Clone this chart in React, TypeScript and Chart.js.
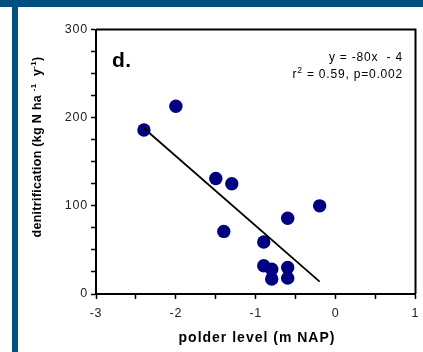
import React, { useEffect, useRef } from 'react';
import { Chart, registerables } from 'chart.js';

Chart.register(...registerables);

// ---- data ----
const polderLevel = [-2.4, -2.0, -1.5, -1.3, -1.4, -0.6, -0.2, -0.9, -0.9, -0.8, -0.8, -0.6, -0.6];
const denitrification = [186, 213, 131, 125, 71, 86, 100, 59, 32, 28, 17, 30, 18];
const trendX = [-2.4, -0.2];
const trendY = [188, 14];
const xTickValues = [-3, -2, -1, 0, 1];
const xTickLabels = ['-3', '-2', '-1', '0', '1'];
const yTickValues = [0, 100, 200, 300];
const yTickLabels = ['0', '100', '200', '300'];
const panelLabel = 'd.';
const equationText = 'y = -80x  - 4';
const statsLead = 'r';
const statsSup = '2';
const statsRest = ' = 0.59, p=0.002';
const xTitle = 'polder level (m NAP)';
const yTitleParts = [
  { t: 'denitrification (kg N ha ', sup: false },
  { t: '-1', sup: true },
  { t: '  y', sup: false },
  { t: '-1', sup: true },
  { t: ')', sup: false },
];

const FONT = "'Liberation Sans', Arial, sans-serif";
const BLUE = '#01507f';

const decor = {
  id: 'decor',
  beforeDraw(chart: any) {
    chart.ctx.letterSpacing = '0.8px';
  },
  afterDraw(chart: any) {
    const { ctx, chartArea: a } = chart;
    ctx.save();
    // frame top / right
    ctx.strokeStyle = '#000';
    ctx.lineWidth = 2;
    ctx.beginPath();
    ctx.moveTo(a.left, a.top);
    ctx.lineTo(a.right, a.top);
    ctx.lineTo(a.right, a.bottom);
    ctx.stroke();

    ctx.fillStyle = '#000';
    ctx.textBaseline = 'alphabetic';

    // panel label
    ctx.letterSpacing = '0.5px';
    ctx.textAlign = 'left';
    ctx.font = `bold 21px ${FONT}`;
    ctx.fillText(panelLabel, 112, 67);

    // equation
    ctx.letterSpacing = '0.8px';
    ctx.font = `12px ${FONT}`;
    ctx.textAlign = 'right';
    ctx.fillText(equationText, 403, 61);

    // r^2 line
    ctx.textAlign = 'left';
    ctx.font = `12px ${FONT}`;
    const wLead = ctx.measureText(statsLead).width;
    const wRest = ctx.measureText(statsRest).width;
    ctx.font = `8.5px ${FONT}`;
    const wSup = ctx.measureText(statsSup).width;
    let x0 = 403 - (wLead + wSup + wRest);
    ctx.font = `12px ${FONT}`;
    ctx.fillText(statsLead, x0, 78);
    x0 += wLead;
    ctx.font = `8.5px ${FONT}`;
    ctx.fillText(statsSup, x0, 73);
    x0 += wSup;
    ctx.font = `12px ${FONT}`;
    ctx.fillText(statsRest, x0, 78);

    // x title
    ctx.font = `bold 14px ${FONT}`;
    ctx.textAlign = 'center';
    ctx.letterSpacing = '1px';
    ctx.fillText(xTitle, 257, 342);

    // y title (rotated)
    ctx.letterSpacing = '0.3px';
    ctx.translate(40.5, 147);
    ctx.rotate(-Math.PI / 2);
    ctx.textAlign = 'left';
    const widths = yTitleParts.map((p) => {
      ctx.font = p.sup ? `bold 8px ${FONT}` : `bold 12.5px ${FONT}`;
      return ctx.measureText(p.t).width;
    });
    const total = widths.reduce((s, w) => s + w, 0);
    let px = -total / 2;
    yTitleParts.forEach((p, i) => {
      ctx.font = p.sup ? `bold 8px ${FONT}` : `bold 12.5px ${FONT}`;
      ctx.fillText(p.t, px, p.sup ? -5 : 0);
      px += widths[i];
    });
    ctx.restore();
    ctx.letterSpacing = '0px';
  },
};

export default function App() {
  const ref = useRef<HTMLCanvasElement>(null);

  useEffect(() => {
    if (!ref.current) return;
    const chart = new Chart(ref.current, {
      type: 'scatter',
      data: {
        datasets: [
          {
            type: 'line',
            data: trendX.map((x, i) => ({ x, y: trendY[i] })),
            borderColor: '#000',
            borderWidth: 1.8,
            pointRadius: 0,
            fill: false,
            order: 0,
          } as any,
          {
            type: 'scatter',
            data: polderLevel.map((x, i) => ({ x, y: denitrification[i] })),
            backgroundColor: '#000080',
            borderColor: '#000080',
            borderWidth: 0,
            pointRadius: 6.7,
            order: 1,
          },
        ],
      },
      options: {
        responsive: false,
        animation: false,
        devicePixelRatio: 1,
        layout: { padding: { left: 0, top: 29.5, right: 7.5, bottom: 0 } },
        plugins: { legend: { display: false }, tooltip: { enabled: false } },
        scales: {
          x: {
            type: 'linear',
            min: -3,
            max: 1,
            afterFit: (s: any) => {
              s.height = 58;
              s.paddingLeft = 0;
              s.paddingRight = 0;
            },
            border: { display: true, color: '#000', width: 2 },
            grid: { drawOnChartArea: false, drawTicks: true, tickLength: 5, tickColor: '#000', tickWidth: 1.5 },
            ticks: {
              stepSize: 0.5,
              autoSkip: false,
              maxRotation: 0,
              padding: 7,
              color: '#222',
              font: { family: FONT, size: 12.5 },
              callback: (v: any) => {
                const i = xTickValues.indexOf(Number(v));
                return i >= 0 ? xTickLabels[i] : '';
              },
            },
          },
          y: {
            type: 'linear',
            min: 0,
            max: 300,
            afterFit: (s: any) => {
              s.width = 96;
              s.paddingTop = 0;
              s.paddingBottom = 0;
            },
            border: { display: true, color: '#000', width: 2 },
            grid: { drawOnChartArea: false, drawTicks: true, tickLength: 5, tickColor: '#000', tickWidth: 1.5 },
            ticks: {
              stepSize: 25,
              autoSkip: false,
              padding: 3,
              color: '#222',
              font: { family: FONT, size: 12.5 },
              callback: (v: any) => {
                const i = yTickValues.indexOf(Number(v));
                return i >= 0 ? yTickLabels[i] : '';
              },
            },
          },
        },
      },
      plugins: [decor],
    });
    return () => chart.destroy();
  }, []);

  return (
    <div style={{ position: 'fixed', left: 0, top: 0, width: 423, height: 352, background: '#fff', overflow: 'hidden' }}>
      <canvas ref={ref} width={423} height={352} style={{ position: 'absolute', left: 0, top: 0 }} />
      <div style={{ position: 'absolute', left: 0, top: 0, width: 423, height: 7, background: BLUE }} />
      <div style={{ position: 'absolute', left: 12, top: 0, width: 6, height: 352, background: BLUE }} />
    </div>
  );
}
